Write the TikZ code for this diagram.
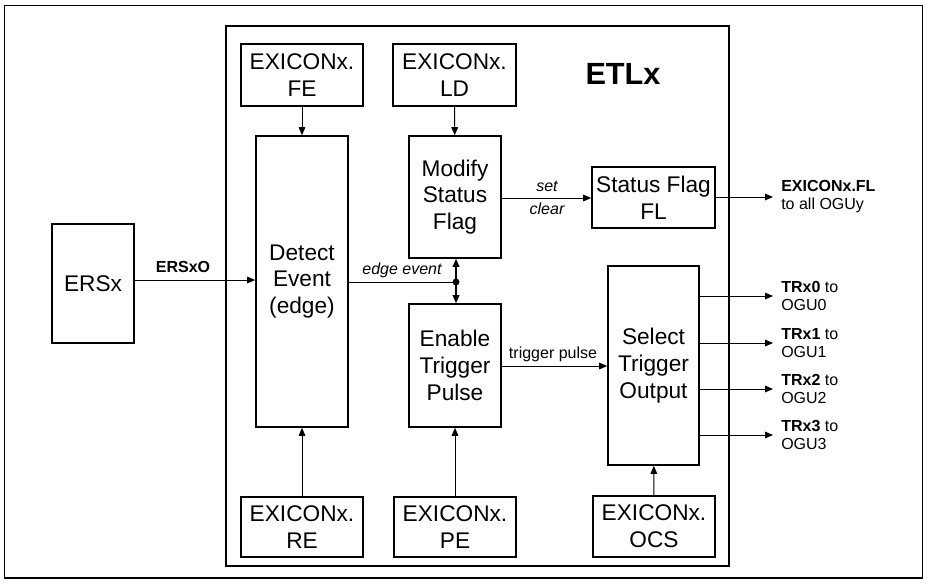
\documentclass[tikz,border=0pt]{standalone}
\usepackage{fontspec}
\setmainfont{Liberation Sans}
\usetikzlibrary{arrows.meta}

\begin{document}
\begin{tikzpicture}[x=0.75pt,y=-0.75pt,
  blk/.style={draw,line width=1.2pt,align=center,inner sep=0pt,font=\fontsize{17}{20}\selectfont},
  sz/.style 2 args={minimum width=#1*0.75pt,minimum height=#2*0.75pt},
  arr/.style={-{Triangle[length=6pt,width=5pt]},line width=0.7pt},
  sig/.style={font=\fontsize{12}{13.5}\selectfont,inner sep=0pt,align=left}]
\useasboundingbox (0,0) rectangle (927,583);
% cadre
\draw[line width=0.8pt] (4.5,5.5) rectangle (922.5,578);
% bloc ETLx
\node[draw,line width=1.5pt,sz={503}{540}] (etl) at (477.5,296) {};
\node[font=\fontsize{23}{26}\selectfont\bfseries] (etltitle) at (623,74) {ETLx};
% registres
\node[blk,sz={122}{62}] (fe) at (302,75) {EXICONx.\\FE};
\node[blk,sz={123}{62}] (ld) at (454.5,75) {EXICONx.\\LD};
\node[blk,sz={122}{60}] (re) at (302,527) {EXICONx.\\RE};
\node[blk,sz={122}{60}] (pe) at (455,527) {EXICONx.\\PE};
\node[blk,sz={122}{61}] (ocs) at (654,526.5) {EXICONx.\\OCS};
% blocs fonctionnels
\node[blk,sz={82}{119}] (ersx) at (93,283.5) {ERSx};
\node[blk,sz={92}{291}] (detect) at (302,281.5) {Detect\\Event\\(edge)};
\node[blk,sz={92}{122}] (modify) at (455,197) {Modify\\Status\\Flag};
\node[blk,sz={92}{123}] (enable) at (455,365.5) {Enable\\Trigger\\Pulse};
\node[blk,sz={123}{61}] (flag) at (653.5,197.5) {Status Flag\\FL};
\node[blk,sz={91}{199}] (select) at (653.5,365.5) {Select\\Trigger\\Output};
% fleches registres
\draw[arr] (fe) -- (detect);
\draw[arr] (ld) -- (modify);
\draw[arr] (re) -- (detect);
\draw[arr] (pe) -- (enable);
\draw[arr] (ocs) -- (select);
% ERSxO
\draw[arr] (ersx.east |- 0,280) -- (detect.west |- 0,280);
\node[sig,font=\fontsize{12}{13.5}\selectfont\bfseries] (ersxo) at (183,267) {ERSxO};
% edge event
\coordinate (junc) at (456,282);
\draw[line width=0.7pt] (detect.east |- junc) -- (junc);
\fill (junc) circle[radius=2.6pt];
\draw[arr,line width=1pt] (junc) -- (modify.south -| junc);
\draw[arr,line width=1pt] (junc) -- (enable.north -| junc);
\node[sig,font=\fontsize{12}{13.5}\selectfont\itshape] (edgelbl) at (402,270) {edge event};
% set / clear
\draw[arr] (modify.east |- 0,198) -- (flag.west |- 0,198);
\node[sig,font=\fontsize{12}{13.5}\selectfont\itshape] (setlbl) at (547,186) {set};
\node[sig,font=\fontsize{12}{13.5}\selectfont\itshape] (clrlbl) at (547,209) {clear};
% trigger pulse
\draw[arr] (enable.east |- 0,366) -- (select.west |- 0,366);
\node[sig] (trglbl) at (553,354) {trigger pulse};
% sorties
\coordinate (flout) at (773,197);
\draw[arr] (flag.east |- flout) -- (flout);
\node[sig,anchor=west] (fllbl) at (781,197) {\textbf{EXICONx.FL}\\to all OGUy};
\foreach \i/\yy in {0/296,1/343,2/389,3/435}{
  \coordinate (tr\i) at (773,\yy);
  \draw[arr] (select.east |- tr\i) -- (tr\i);
  \node[sig,anchor=west] (trlbl\i) at (781,\yy) {\textbf{TRx\i} to\\OGU\i};
}
\end{tikzpicture}
\end{document}
